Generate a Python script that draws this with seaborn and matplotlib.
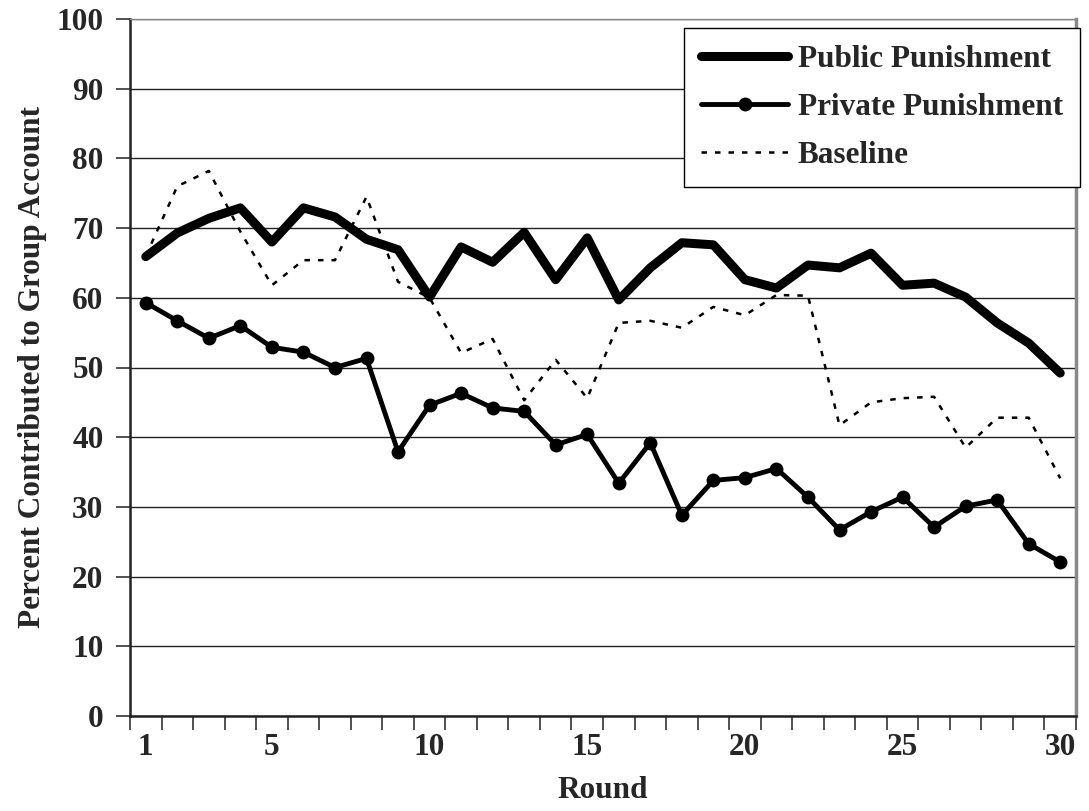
import numpy as np
import pandas as pd
import seaborn as sns
import matplotlib.pyplot as plt
from matplotlib.ticker import MultipleLocator, FixedLocator

# Data
rounds = list(range(1, 31))
public = [65.9, 69.3, 71.4, 72.9, 68.0, 72.9, 71.6, 68.4, 66.9, 60.1,
          67.3, 65.1, 69.4, 62.6, 68.6, 59.7, 64.3, 67.9, 67.6, 62.6,
          61.4, 64.7, 64.3, 66.4, 61.8, 62.1, 60.1, 56.4, 53.5, 49.2]
private = [59.3, 56.7, 54.2, 56.0, 52.9, 52.2, 50.0, 51.3, 37.9, 44.6,
           46.3, 44.2, 43.7, 38.9, 40.4, 33.4, 39.2, 28.8, 33.8, 34.2,
           35.5, 31.4, 26.7, 29.3, 31.4, 27.1, 30.1, 31.0, 24.7, 22.1]
baseline = [66.0, 76.0, 78.2, 69.5, 61.8, 65.4, 65.4, 74.5, 62.3, 60.0,
            52.1, 54.1, 45.3, 51.1, 45.6, 56.4, 56.7, 55.7, 58.7, 57.5,
            60.4, 60.3, 41.7, 45.0, 45.6, 45.8, 38.5, 42.8, 42.8, 34.1]
tick_rounds = [1, 5, 10, 15, 20, 25, 30]

df = pd.DataFrame({'Round': rounds, 'Public': public,
                   'Private': private, 'Baseline': baseline})

sns.set_style('white')
plt.rcParams['font.family'] = ['Liberation Serif', 'DejaVu Serif']
plt.rcParams['font.weight'] = 'bold'
FS = 22.5

fig = plt.figure(figsize=(10.89, 8.11), dpi=100)
ax = fig.add_axes([130 / 1089, 95 / 811, 946 / 1089, 697 / 811])

sns.lineplot(data=df, x='Round', y='Public', ax=ax, color='black',
             linewidth=6.5, label='Public Punishment', solid_capstyle='round')
sns.lineplot(data=df, x='Round', y='Private', ax=ax, color='black',
             linewidth=3.5, marker='o', markersize=10, markeredgewidth=0,
             label='Private Punishment')
sns.lineplot(data=df, x='Round', y='Baseline', ax=ax, color='black',
             linewidth=1.8, linestyle=(0, (2.2, 3.2)), label='Baseline')

ax.set_xlim(0.5, 30.5)
ax.set_ylim(0, 100)

# horizontal gridlines
ax.yaxis.set_major_locator(MultipleLocator(10))
ax.grid(axis='y', color='#222222', linewidth=1.0)
ax.grid(axis='x', visible=False)
ax.set_axisbelow(True)

# x ticks: marks between categories, labels at selected rounds
ax.xaxis.set_major_locator(FixedLocator(tick_rounds))
ax.xaxis.set_minor_locator(FixedLocator(np.arange(0.5, 31, 1)))
ax.tick_params(axis='x', which='major', length=0, pad=12, labelsize=FS)
ax.tick_params(axis='x', which='minor', direction='out', length=10,
               width=1.2, color='#333333', bottom=True)
ax.tick_params(axis='y', which='major', direction='out', length=10,
               width=1.2, color='#333333', left=True, pad=9, labelsize=FS)
for lbl in ax.get_xticklabels() + ax.get_yticklabels():
    lbl.set_fontweight('bold')

ax.set_xlabel('Round', fontsize=FS, fontweight='bold', labelpad=10)
ax.set_ylabel('Percent Contributed to Group Account', fontsize=FS,
              fontweight='bold', labelpad=7)

for side in ['left', 'bottom']:
    ax.spines[side].set_color('#222222')
    ax.spines[side].set_linewidth(1.8)
ax.spines['right'].set_color('#888888')
ax.spines['right'].set_linewidth(2.5)
ax.spines['top'].set_color('#888888')
ax.spines['top'].set_linewidth(1.0)

leg = ax.legend(loc='upper right', bbox_to_anchor=(1080 / 1089, 1 - 28 / 811),
                bbox_transform=fig.transFigure, fontsize=FS, frameon=True,
                fancybox=False, handlelength=2.8, handletextpad=0.3,
                labelspacing=0.6, borderpad=0.55, borderaxespad=0,
                prop={'weight': 'bold', 'size': FS})
leg.get_frame().set_edgecolor('black')
leg.get_frame().set_linewidth(1.0)
leg.get_frame().set_alpha(1)

fig.savefig('out.png', dpi=100)
